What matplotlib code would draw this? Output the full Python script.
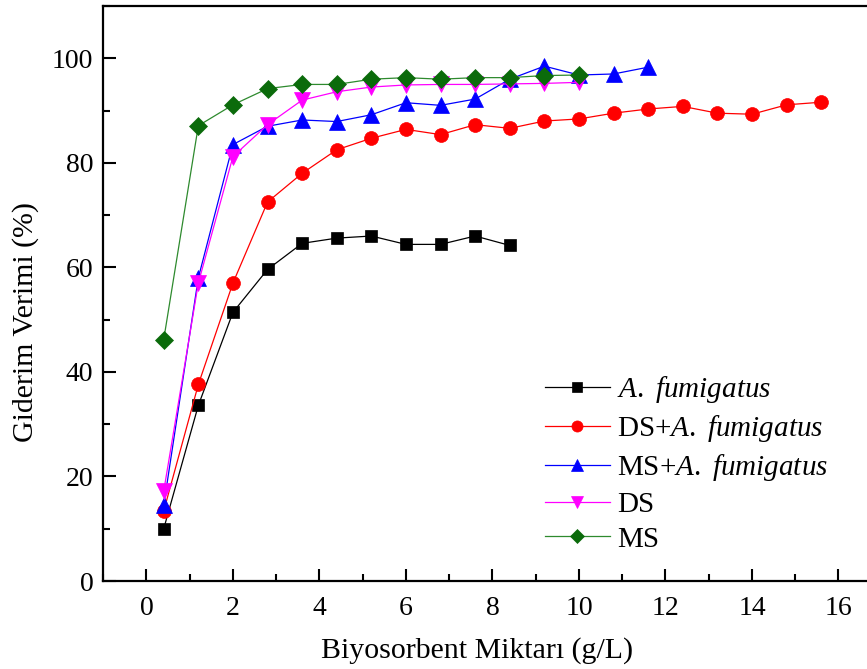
import matplotlib
matplotlib.use("Agg")
import matplotlib.pyplot as plt
from matplotlib.ticker import MultipleLocator

plt.rcParams['font.family'] = ['Liberation Serif', 'DejaVu Serif']
plt.rcParams['mathtext.fontset'] = 'custom'
plt.rcParams['mathtext.rm'] = 'Liberation Serif'
plt.rcParams['mathtext.it'] = 'Liberation Serif:italic'

# Biosorbent dose (g/L)
dose = [0.4, 1.2, 2.0, 2.8, 3.6, 4.4, 5.2, 6.0, 6.8, 7.6,
        8.4, 9.2, 10.0, 10.8, 11.6, 12.4, 13.2, 14.0, 14.8, 15.6]

# Removal efficiency (%)
af = [10.0, 33.6, 51.4, 59.6, 64.6, 65.6, 66.0, 64.4, 64.4, 66.0, 64.2]
ds_af = [13.4, 37.6, 57.0, 72.5, 78.0, 82.5, 84.7, 86.4, 85.4, 87.3,
         86.6, 88.0, 88.4, 89.5, 90.3, 90.8, 89.5, 89.3, 91.1, 91.6]
ms_af = [14.5, 58.0, 83.5, 87.0, 88.2, 87.9, 89.2, 91.5, 91.0, 92.2,
         96.0, 98.5, 96.8, 97.0, 98.3]
ds = [17.2, 57.0, 81.2, 87.3, 92.0, 93.6, 94.5, 94.9, 95.0, 95.0,
      95.1, 95.2, 95.4]
ms = [46.2, 87.1, 91.1, 94.2, 95.0, 95.0, 96.0, 96.3, 96.0, 96.3,
      96.3, 96.7, 96.8]

series = [
    (af, 'black', 'black', 's', 9, r'$\it{A.}$ $\it{fumigatus}$'),
    (ds_af, '#FF0000', '#FF0000', 'o', 10, r'DS+$\it{A.}$ $\it{fumigatus}$'),
    (ms_af, '#0000FF', '#0000FF', '^', 11, r'MS+$\it{A.}$ $\it{fumigatus}$'),
    (ds, '#FF00FF', '#FF00FF', 'v', 11, 'DS'),
    (ms, '#2E8A2E', '#0B6B0B', 'D', 9, 'MS'),
]

fig = plt.figure(figsize=(8.67, 6.69), dpi=100)
ax = fig.add_axes([0.119, 0.1315, 0.898, 0.8595])

for vals, lcolor, mcolor, marker, ms_size, label in series:
    ax.plot(dose[:len(vals)], vals, color=lcolor, marker=marker,
            markersize=ms_size, linewidth=0.9, label=label,
            markerfacecolor=mcolor, markeredgewidth=0.5,
            markeredgecolor=mcolor)

ax.set_xlim(-1, 17)
ax.set_ylim(0, 110)
ax.xaxis.set_major_locator(MultipleLocator(2))
ax.xaxis.set_minor_locator(MultipleLocator(1))
ax.yaxis.set_major_locator(MultipleLocator(20))
ax.yaxis.set_minor_locator(MultipleLocator(10))
ax.tick_params(which='both', direction='in', width=1.5, labelsize=20,
               top=False, right=False)
ax.tick_params(which='major', length=9)
ax.tick_params(axis='x', which='major', pad=11)
ax.tick_params(axis='y', which='major', pad=7)
ax.tick_params(which='minor', length=5)
for sp in ax.spines.values():
    sp.set_linewidth(1.6)

ax.set_xlabel('Biyosorbent Miktarı (g/L)', fontsize=21.5)
ax.xaxis.set_label_coords(0.48, -0.097)
ax.set_ylabel('Giderim Verimi (%)', fontsize=21.5)
ax.yaxis.set_label_coords(-0.082, 0.45)

ax.legend(loc='upper left', bbox_to_anchor=(0.568, 0.36), frameon=False,
          fontsize=21, markerscale=0.8, handlelength=2.2,
          labelspacing=0.28, handletextpad=0.25, borderpad=0,
          borderaxespad=0)

fig.savefig('out.png', dpi=100)
